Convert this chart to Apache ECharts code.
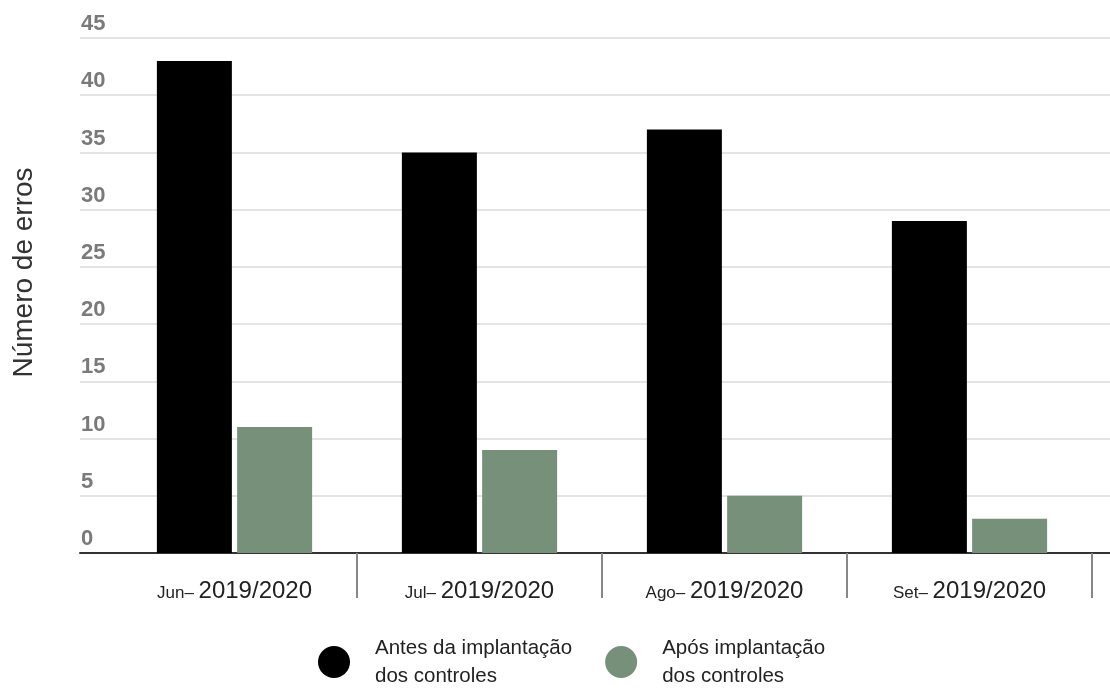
<!DOCTYPE html>
<html>
<head>
<meta charset="utf-8">
<script src="https://cdn.jsdelivr.net/npm/echarts@6/dist/echarts.min.js"></script>
<style>html,body{margin:0;padding:0;background:#fff}#c{width:1110px;height:688px}</style>
</head>
<body>
<div id="c"></div>
<script>
const months = ['Jun–', 'Jul–', 'Ago–', 'Set–'];
const period = '2019/2020';
const categories = months.map(m => m + ' ' + period);
const antes = [43, 35, 37, 29];
const apos = [11, 9, 5, 3];
const seriesNames = ['Antes da implantação\ndos controles', 'Após implantação\ndos controles'];
const yTitle = 'Número de erros';

const FF = 'Liberation Sans, Arial, sans-serif';
const chart = echarts.init(document.getElementById('c'));
chart.setOption({
  animation: false,
  backgroundColor: '#fff',
  grid: [
    { left: 80, right: 0, top: 38, bottom: 135 },
    { left: 112, right: 18, top: 38, bottom: 135 }
  ],
  xAxis: [
    { gridIndex: 0, type: 'category', data: categories,
      axisLine: { show: true, lineStyle: { color: '#333', width: 2 } },
      axisTick: { show: false }, axisLabel: { show: false }, splitLine: { show: false } },
    { gridIndex: 1, type: 'category', data: categories,
      axisLine: { show: false },
      axisTick: { show: true, length: 45, interval: function (i) { return i > 0; }, lineStyle: { color: '#888', width: 2 } },
      axisLabel: {
        margin: 26,
        formatter: function (v) {
          const p = v.split(' ');
          return '{a|' + p[0] + ' }{b|' + p[1] + '}';
        },
        rich: {
          a: { fontSize: 17, color: '#222', fontFamily: FF, verticalAlign: 'bottom', padding: [0, 0, 1, 0] },
          b: { fontSize: 24, color: '#222', fontFamily: FF, verticalAlign: 'bottom' }
        }
      } }
  ],
  yAxis: [
    { gridIndex: 0, type: 'value', min: 0, max: 45, interval: 5,
      name: yTitle, nameLocation: 'middle', nameGap: 42,
      nameTextStyle: { fontSize: 28, color: '#333', fontFamily: FF, padding: [0, 0, 0, 46] },
      axisLine: { show: false }, axisTick: { show: false },
      axisLabel: { inside: true, margin: 1, verticalAlign: 'bottom', align: 'left', padding: [0, 0, 3, 0],
        fontSize: 22, fontWeight: 'bold', color: '#7a7a7a', fontFamily: FF },
      splitLine: { show: true, lineStyle: { color: '#e4e4e4', width: 2 } } },
    { gridIndex: 1, type: 'value', min: 0, max: 45, interval: 5,
      axisLine: { show: false }, axisTick: { show: false }, axisLabel: { show: false }, splitLine: { show: false } }
  ],
  legend: {
    left: 313, top: 629, itemWidth: 32, itemHeight: 32, itemGap: 33, icon: 'circle',
    data: seriesNames,
    textStyle: { fontSize: 20.5, lineHeight: 28, color: '#222', padding: [0, 0, 0, 20], fontFamily: FF }
  },
  series: [
    { name: seriesNames[0], type: 'bar', xAxisIndex: 1, yAxisIndex: 1, data: antes,
      barWidth: 75, barGap: '7%', itemStyle: { color: '#000' } },
    { name: seriesNames[1], type: 'bar', xAxisIndex: 1, yAxisIndex: 1, data: apos,
      barWidth: 75, itemStyle: { color: '#76907a' } }
  ]
});
</script>
</body>
</html>
